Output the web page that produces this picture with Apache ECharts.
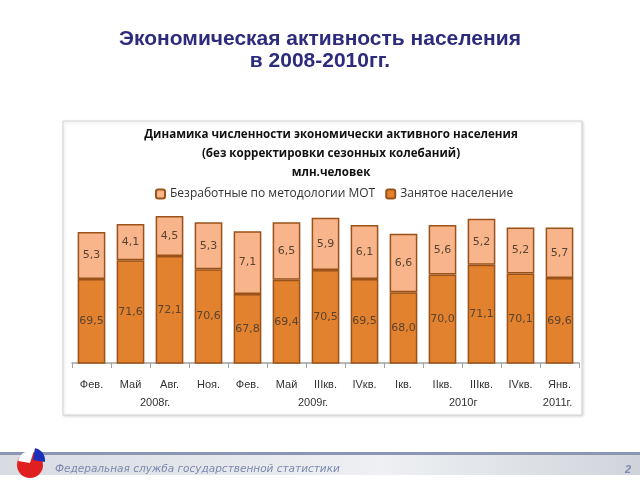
<!DOCTYPE html>
<html><head><meta charset="utf-8">
<script src="https://cdn.jsdelivr.net/npm/echarts@6/dist/echarts.min.js"></script>
<style>html,body{margin:0;padding:0;background:#fff}#c{width:640px;height:480px}</style>
</head><body><div id="c"></div>
<script>
const categories = ['Фев.','Май','Авг.','Ноя.','Фев.','Май','IIIкв.','IVкв.','Iкв.','IIкв.','IIIкв.','IVкв.','Янв.'];
const employed = [69.5,71.6,72.1,70.6,67.8,69.4,70.5,69.5,68.0,70.0,71.1,70.1,69.6];
const unemployed = [5.3,4.1,4.5,5.3,7.1,6.5,5.9,6.1,6.6,5.6,5.2,5.2,5.7];
const yearLabels = ['2008г.','2009г.','2010г','2011г.'];
const yearPositions = [1.63, 5.68, 9.53, 11.95];
const seriesNames = ['Безработные по методологии МОТ','Занятое население'];

const chart = echarts.init(document.getElementById('c'));
const labelStyle = {show:true, position:'inside', color:'#5a4330', fontSize:11, fontFamily:'DejaVu Sans', formatter: p => Number(p.value).toFixed(1).replace('.', ',')};

chart.setOption({
  animation:false,
  title:[
    {text:'Экономическая активность населения\nв 2008-2010гг.', left:'center', top:23,
     textStyle:{fontFamily:'Liberation Sans', fontSize:21, fontWeight:'bold', color:'#2d2b7c', lineHeight:22}},
    {text:'Динамика численности экономически активного населения\n(без корректировки сезонных колебаний)\nмлн.человек', left:326, textAlign:'center', top:120,
     textStyle:{fontFamily:'Open Sans', fontSize:11.6, fontWeight:'bold', color:'#111', lineHeight:19}}
  ],
  legend:{top:183, left:150, itemWidth:9, itemHeight:9, itemGap:10, data:seriesNames,
    textStyle:{fontFamily:'Open Sans', fontSize:12, color:'#333'}},
  grid:{left:72, right:61, top:186, bottom:117},
  xAxis:{type:'category', data:categories,
    axisLine:{lineStyle:{color:'#a0a0a0', width:1.5}},
    axisTick:{show:true, length:5, lineStyle:{color:'#a0a0a0'}},
    axisLabel:{fontFamily:'Liberation Sans', fontSize:11, color:'#333', margin:16}},
  yAxis:{type:'value', min:60, max:80, show:false, splitLine:{show:false}},
  series:[
    {name:seriesNames[1], type:'bar', stack:'a', data:employed, barWidth:'71%',
     itemStyle:{color:'#e2812e', borderColor:'#9a5219', borderWidth:1.5}, label:labelStyle},
    {name:seriesNames[0], type:'bar', stack:'a', data:unemployed, barWidth:'71%',
     itemStyle:{color:'#f8b48a', borderColor:'#9a5219', borderWidth:1.5}, label:labelStyle}
  ]
});

const baseGraphics = [
  {type:'rect', z:-10, shape:{x:63, y:121, width:519, height:294},
   style:{fill:'#fff', stroke:'#d4d4d4', lineWidth:1, shadowBlur:3, shadowColor:'rgba(0,0,0,0.15)', shadowOffsetX:1, shadowOffsetY:1}},
  {type:'rect', shape:{x:0, y:455, width:640, height:20},
   style:{fill:new echarts.graphic.LinearGradient(0,0,1,0,[{offset:0,color:'#d8dbe2'},{offset:0.6,color:'#eef0f3'},{offset:1,color:'#d0d4da'}])}},
  {type:'rect', shape:{x:0, y:452, width:640, height:3}, style:{fill:'#8a96b4'}},
  {type:'sector', shape:{cx:30, cy:465, r0:0, r:13, startAngle:0, endAngle:Math.PI*2}, style:{fill:'#e02020'}},
  {type:'sector', shape:{cx:30, cy:463, r0:0, r:12, startAngle:Math.PI*1.05, endAngle:Math.PI*1.6}, style:{fill:'#ffffff'}},
  {type:'sector', shape:{cx:33, cy:460, r0:0, r:12, startAngle:-Math.PI*0.45, endAngle:Math.PI*0.05}, style:{fill:'#1a2fb8'}},
  {type:'text', style:{text:'Федеральная служба государственной статистики', x:55, y:464, fontFamily:'DejaVu Sans', fontStyle:'italic', fontSize:10.5, fill:'#7a89ad'}},
  {type:'text', style:{text:'2', x:625, y:464, fontFamily:'Liberation Sans', fontStyle:'italic', fontWeight:'bold', fontSize:11, fill:'#7a89ad'}}
];
const yearGraphics = yearLabels.map((t,i)=>{
  const pos = yearPositions[i];
  const i0 = Math.floor(pos);
  const p0 = chart.convertToPixel({xAxisIndex:0}, i0);
  const p1 = chart.convertToPixel({xAxisIndex:0}, Math.min(i0+1, categories.length-1));
  const step = (i0+1 < categories.length) ? (p1 - p0) : (p0 - chart.convertToPixel({xAxisIndex:0}, i0-1));
  const px = p0 + (pos - i0) * step;
  return {type:'text', style:{text:t, x:px, y:397, align:'center', fontFamily:'Liberation Sans', fontSize:11, fill:'#333'}};
});
chart.setOption({graphic: baseGraphics.concat(yearGraphics)});
</script></body></html>
